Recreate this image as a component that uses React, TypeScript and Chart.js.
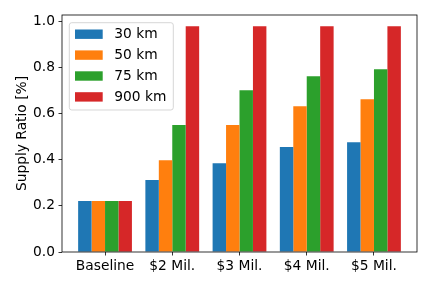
import React, { useEffect, useRef } from "react";
import { Chart, registerables } from "chart.js";

Chart.register(...registerables);

const categories = ["Baseline", "$2 Mil.", "$3 Mil.", "$4 Mil.", "$5 Mil."];
const seriesLabels = ["30 km", "50 km", "75 km", "900 km"];
const seriesColors = ["#1f77b4", "#ff7f0e", "#2ca02c", "#d62728"];
const values30 = [0.221, 0.312, 0.385, 0.455, 0.476];
const values50 = [0.221, 0.398, 0.55, 0.632, 0.662];
const values75 = [0.221, 0.55, 0.701, 0.762, 0.792];
const values900 = [0.221, 0.978, 0.978, 0.978, 0.978];
const yTicks = [0, 0.2, 0.4, 0.6, 0.8, 1.0];
const yTitle = "Supply Ratio [%]";

const FONT = "'DejaVu Sans', sans-serif";
const FS = 13.8;

const framePlugin = {
  id: "frame",
  afterDatasetsDraw(chart: any) {
    const { ctx, chartArea } = chart;
    ctx.save();
    ctx.strokeStyle = "#000";
    ctx.lineWidth = 0.8;
    ctx.strokeRect(chartArea.left, chartArea.top, chartArea.right - chartArea.left, chartArea.bottom - chartArea.top);
    ctx.restore();
  },
};

const legendPlugin = {
  id: "mplLegend",
  afterDraw(chart: any) {
    const { ctx, chartArea } = chart;
    const bx = chartArea.left + 7.3;
    const by = chartArea.top + 7.7;
    const bw = 104;
    const bh = 87.3;
    ctx.save();
    ctx.beginPath();
    ctx.roundRect(bx, by, bw, bh, 2.5);
    ctx.fillStyle = "rgba(255,255,255,0.8)";
    ctx.fill();
    ctx.strokeStyle = "rgba(204,204,204,0.8)";
    ctx.lineWidth = 1;
    ctx.stroke();
    ctx.font = `${FS}px ${FONT}`;
    ctx.textBaseline = "middle";
    ctx.textAlign = "left";
    chart.data.datasets.forEach((ds: any, i: number) => {
      const cy = by + 11.5 + i * 20.9;
      ctx.fillStyle = ds.backgroundColor;
      ctx.fillRect(bx + 5.7, cy - 4.7, 27.7, 9.4);
      ctx.fillStyle = "#000";
      ctx.fillText(ds.label, bx + 45, cy + 0.5);
    });
    ctx.restore();
  },
};

export default function App() {
  const ref = useRef<HTMLCanvasElement>(null);
  useEffect(() => {
    document.body.style.margin = "0";
    const all = [values30, values50, values75, values900];
    const chart = new Chart(ref.current!, {
      type: "bar",
      data: {
        datasets: all.map((vals, k) => ({
          label: seriesLabels[k],
          backgroundColor: seriesColors[k],
          borderWidth: 0,
          data: vals.map((v, i) => ({ x: i, y: v })),
        })),
      },
      options: {
        responsive: false,
        animation: false,
        events: [],
        layout: { padding: { left: 0, top: 15, right: 15, bottom: 0 } },
        datasets: { bar: { barPercentage: 1, categoryPercentage: 0.8 } },
        plugins: { legend: { display: false }, tooltip: { enabled: false } },
        scales: {
          x: {
            type: "linear",
            offset: false,
            min: -0.64,
            max: 4.64,
            afterBuildTicks: (axis: any) => {
              axis.ticks = categories.map((_, i) => ({ value: i }));
            },
            afterFit: (s: any) => {
              s.height = 36;
            },
            grid: { display: true, offset: false, drawOnChartArea: false, drawTicks: true, tickLength: 3.5, color: "#000", lineWidth: 0.8 },
            border: { display: false },
            ticks: {
              padding: 3,
              color: "#000",
              font: { family: FONT, size: FS },
              maxRotation: 0,
              autoSkip: false,
              callback: (v: any) => categories[Math.round(Number(v))] ?? "",
            },
          },
          y: {
            type: "linear",
            min: 0,
            max: 1.027,
            afterBuildTicks: (axis: any) => {
              axis.ticks = yTicks.map((v) => ({ value: v }));
            },
            afterFit: (s: any) => {
              s.width = 62;
            },
            grid: { display: true, drawOnChartArea: false, drawTicks: true, tickLength: 3.5, color: "#000", lineWidth: 0.8 },
            border: { display: false },
            title: {
              display: true,
              text: yTitle,
              color: "#000",
              font: { family: FONT, size: FS },
              padding: { top: 14, bottom: 0 },
            },
            ticks: {
              padding: 3.5,
              color: "#000",
              font: { family: FONT, size: FS },
              callback: (v: any) => Number(v).toFixed(1),
            },
          },
        },
      },
      plugins: [framePlugin, legendPlugin],
    } as any);
    return () => chart.destroy();
  }, []);
  return <canvas ref={ref} width={432} height={288} style={{ display: "block" }} />;
}
